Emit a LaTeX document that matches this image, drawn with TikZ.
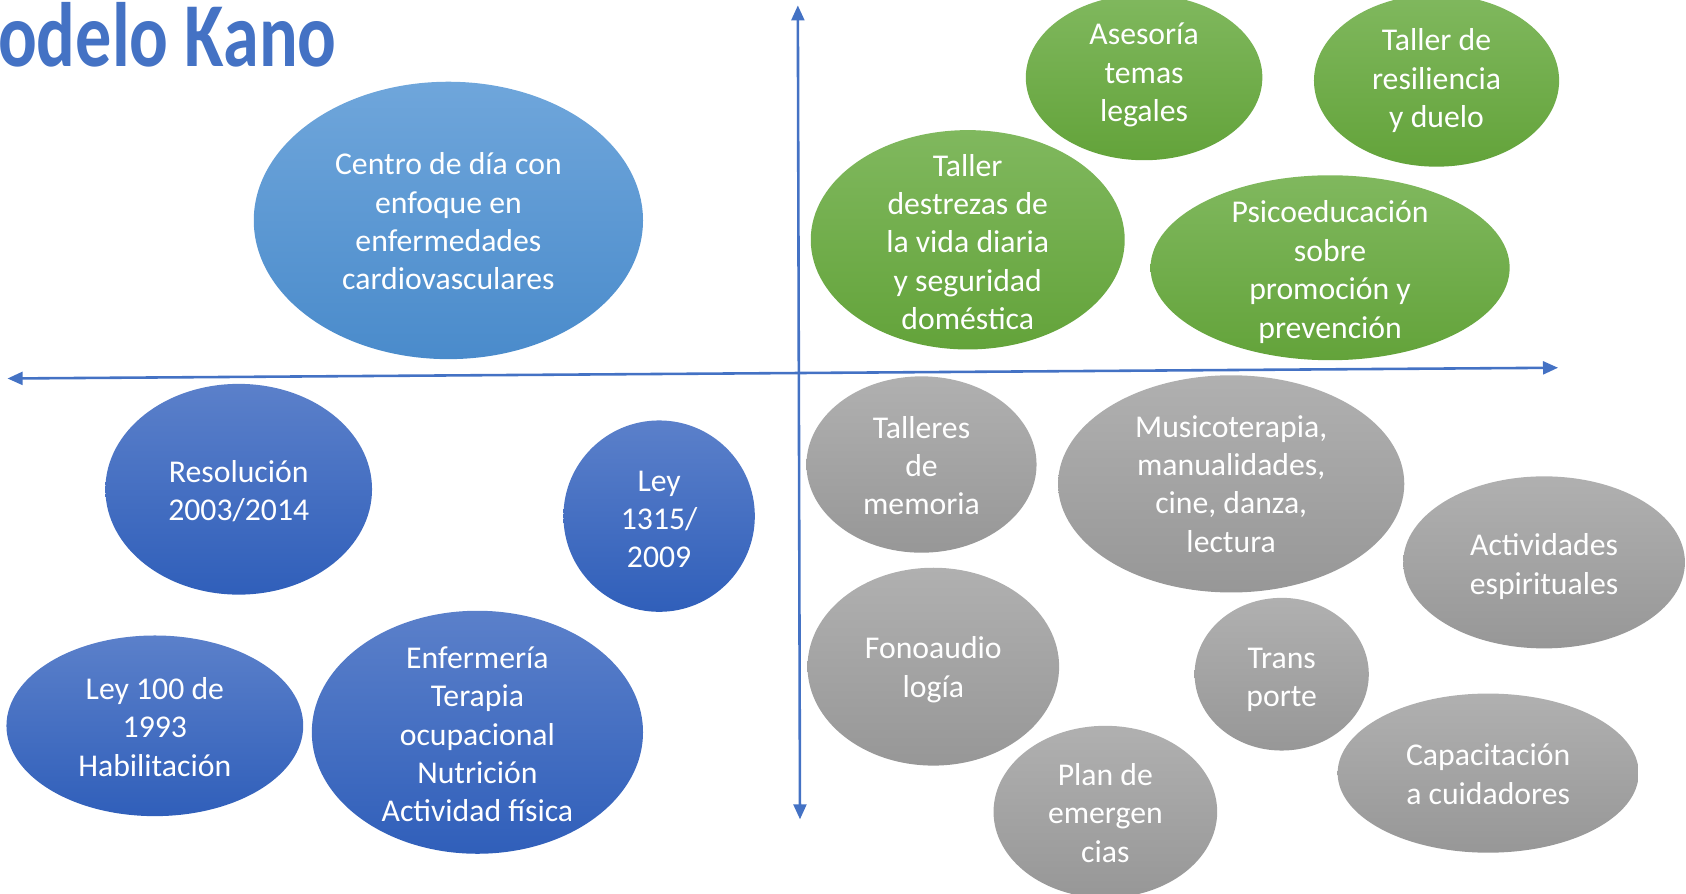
\documentclass[tikz,border=0pt]{standalone}
\usepackage{fontspec}
\setmainfont{Carlito}
\usetikzlibrary{shapes.geometric,arrows.meta}
\definecolor{axisblue}{HTML}{4472C4}
\definecolor{lbtop}{HTML}{6FA6DB}
\definecolor{lbbot}{HTML}{4A8BCB}
\definecolor{dbtop}{HTML}{5B80CA}
\definecolor{dbbot}{HTML}{305FBA}
\definecolor{grtop}{HTML}{80B85E}
\definecolor{grbot}{HTML}{63A33A}
\definecolor{gytop}{HTML}{B0B0B0}
\definecolor{gybot}{HTML}{979797}
\begin{document}
\begin{tikzpicture}[x=1pt,y=-1pt,
  ell/.style={ellipse, inner sep=0pt, draw=none},
  lbl/.style={inner sep=0pt, text=white, align=center,
    font=\fontsize{29.5}{35.7}\selectfont},
  lightblue/.style={ell, top color=lbtop, bottom color=lbbot},
  darkblue/.style={ell, top color=dbtop, bottom color=dbbot},
  green/.style={ell, top color=grtop, bottom color=grbot},
  grey/.style={ell, top color=gytop, bottom color=gybot},
  axis/.style={draw=axisblue, line width=2.4pt, {Triangle[length=14pt,width=12pt]}-{Triangle[length=14pt,width=12pt]}},
  sz/.style 2 args={minimum width=#1pt, minimum height=#2pt}]
\useasboundingbox (0,0) rectangle (1568,831);

% title
\node[anchor=base west, text=axisblue, inner sep=0pt] (title) at (-2,62)
  {\scalebox{0.79}[1]{\bfseries\fontsize{85}{90}\selectfont odelo Kano}};

% ellipses (shapes)
\node[lightblue, sz={362}{258}] (centro) at (417,205) {};
\node[green, sz={220}{154}] (asesoria) at (1064,72) {};
\node[green, sz={228}{160}] (resiliencia) at (1336,75) {};
\node[green, sz={292}{204}] (destrezas) at (900,223) {};
\node[green, sz={334}{172}] (psico) at (1237,249) {};
\node[darkblue, sz={248}{196}] (resolucion) at (222,455) {};
\node[darkblue, sz={178}{178}] (ley1315) at (613,480) {};
\node[darkblue, sz={276}{168}] (ley100) at (144,675) {};
\node[darkblue, sz={308}{226}] (enfermeria) at (444,681) {};
\node[grey, sz={214}{164}] (memoria) at (857,432) {};
\node[grey, sz={322}{202}] (musico) at (1145,450) {};
\node[grey, sz={262}{160}] (espirit) at (1436,523) {};
\node[grey, sz={234}{184}] (fono) at (868,620) {};
\node[grey, sz={162}{142}] (transp) at (1192,627) {};
\node[grey, sz={208}{160}] (plan) at (1028,755) {};
\node[grey, sz={280}{148}] (capac) at (1384,719) {};

% ellipse texts
\node[lbl] (centroT) at ([yshift=-1pt]centro.center) {Centro de día con\\enfoque en\\enfermedades\\cardiovasculares};
\node[lbl] (asesoriaT) at ([yshift=2pt]asesoria.center) {Asesoría\\temas\\legales};
\node[lbl] (resilienciaT) at (resiliencia.center) {Taller de\\resiliencia\\y duelo};
\node[lbl] (destrezasT) at ([yshift=-2pt]destrezas.center) {Taller\\destrezas de\\la vida diaria\\y seguridad\\doméstica};
\node[lbl] (psicoT) at ([yshift=-4pt]psico.center) {Psicoeducación\\sobre\\promoción y\\prevención};
\node[lbl] (resolucionT) at ([yshift=-2pt]resolucion.center) {Resolución\\2003/2014};
\node[lbl] (ley1315T) at ([yshift=-3pt]ley1315.center) {Ley\\1315/\\2009};
\node[lbl] (ley100T) at ([yshift=-1pt]ley100.center) {Ley 100 de\\1993\\Habilitación};
\node[lbl] (enfermeriaT) at ([yshift=-2pt]enfermeria.center) {Enfermería\\Terapia\\ocupacional\\Nutrición\\Actividad física};
\node[lbl] (memoriaT) at ([yshift=-1pt]memoria.center) {Talleres\\de\\memoria};
\node[lbl] (musicoT) at (musico.center) {Musicoterapia,\\manualidades,\\cine, danza,\\lectura};
\node[lbl] (espiritT) at ([yshift=-4pt]espirit.center) {Actividades\\espirituales};
\node[lbl] (fonoT) at ([yshift=-3pt]fono.center) {Fonoaudio\\logía};
\node[lbl] (transpT) at ([yshift=-5pt]transp.center) {Trans\\porte};
\node[lbl] (planT) at ([yshift=-1pt]plan.center) {Plan de\\emergen\\cias};
\node[lbl] (capacT) at ([yshift=-1pt]capac.center) {Capacitación\\a cuidadores};

% axes
\coordinate (vtop) at (742,5);
\coordinate (vbot) at (744,762);
\coordinate (hleft) at (7,352);
\coordinate (hright) at (1449,342);
\draw[axis] (vtop) -- (vbot);
\draw[axis] (hleft) -- (hright);
\end{tikzpicture}
\end{document}
